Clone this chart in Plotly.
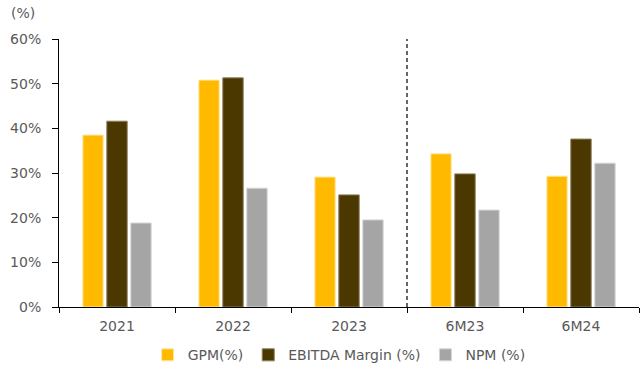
import plotly.graph_objects as go

categories = ["2021", "2022", "2023", "6M23", "6M24"]
gpm = [38.5, 50.8, 29.1, 34.3, 29.3]
ebitda = [41.6, 51.3, 25.1, 29.8, 37.6]
npm = [18.8, 26.6, 19.5, 21.7, 32.2]
y_ticks = [0, 10, 20, 30, 40, 50, 60]
y_labels = ["0%", "10%", "20%", "30%", "40%", "50%", "60%"]

FONT = "DejaVu Sans"
fig = go.Figure()
for name, vals, col, lc in [("GPM(%)", gpm, "#FFBA00", "#FFE9A8"),
                            ("EBITDA Margin (%)", ebitda, "#4A3800", "#8C7E5A"),
                            ("NPM (%)", npm, "#A5A5A5", "#D6D6D6")]:
    fig.add_trace(go.Bar(x=categories, y=vals, name=name,
                         marker=dict(color=col, line=dict(color=lc, width=1))))

fig.add_shape(type="line", xref="x", yref="y", x0=2.5, x1=2.5, y0=0, y1=60,
              line=dict(color="black", width=1.2, dash="4px,3px"))

fig.add_annotation(text="(%)", xref="paper", yref="paper", x=-0.087, y=1.06,
                   xanchor="left", yanchor="bottom", showarrow=False,
                   font=dict(family=FONT, size=14, color="#595959"))

fig.update_layout(
    width=640, height=368,
    margin=dict(l=59, r=1, t=39, b=61, autoexpand=False),
    paper_bgcolor="white", plot_bgcolor="white",
    barmode="group", bargap=0.38, bargroupgap=0.15,
    font=dict(family=FONT, size=14, color="#595959"),
    showlegend=True,
    legend=dict(orientation="h", x=0.483, xanchor="center", y=-0.18, yanchor="middle",
                font=dict(family=FONT, size=14, color="#595959"),
                itemwidth=30, traceorder="normal"),
    xaxis=dict(type="category", showline=True, linecolor="black", linewidth=1,
               ticks="outside", tickson="boundaries", ticklen=5, tickcolor="black",
               showgrid=False, range=[-0.5, 4.5], ticklabelstandoff=6, automargin=False),
    yaxis=dict(range=[0, 60], tickvals=y_ticks, ticktext=y_labels,
               showline=True, linecolor="black", linewidth=1, ticks="outside", ticklen=6,
               tickcolor="black", showgrid=False, zeroline=False,
               ticklabelstandoff=8, automargin=False),
)
fig.write_html("out.html")
